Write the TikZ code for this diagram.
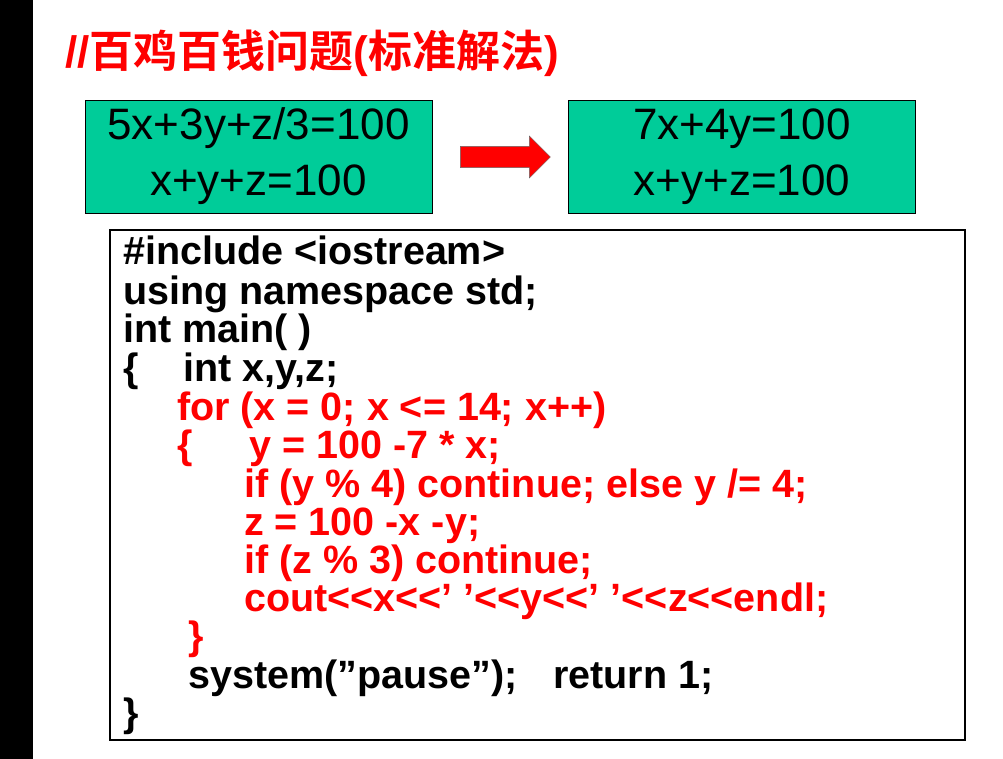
\documentclass[tikz,border=0pt]{standalone}
\usepackage{fontspec}
\setmainfont{Liberation Sans}[Ligatures=NoCommon]
\newfontfamily\cjk{Noto Sans CJK SC}[BoldFont={* Bold}]
\usetikzlibrary{shapes.arrows}
\definecolor{teal1}{HTML}{00CC99}
\definecolor{red1}{HTML}{FF0000}
\newcommand{\sq}{\symbol{39}}
\newcommand{\dq}{\symbol{34}}
\tikzset{eqbox/.style={draw=black,fill=teal1,minimum width=347pt,minimum height=113pt,align=center,font=\fontsize{44}{56}\selectfont,inner sep=0pt},
codel/.style={anchor=base west,inner sep=0pt,font=\bfseries\fontsize{39.5}{39.5}\selectfont},
codr/.style={codel,text=red1}}
\begin{document}
\begin{tikzpicture}[x=1pt,y=-1pt]
\useasboundingbox (0,0) rectangle (1003,759);
\fill[white] (0,0) rectangle (1003,759);
\fill[black] (0,0) rectangle (33,759);
\node[anchor=west,text=red1,font=\bfseries\fontsize{44}{44}\selectfont,inner sep=0pt] (title) at (65,53) {//{\cjk\bfseries 百鸡百钱问题}({\cjk\bfseries 标准解法})};
\node[eqbox] (b1) at (258.5,156.5) {5x+3y+z/3=100\\x+y+z=100};
\node[eqbox] (b2) at (742,156.5) {7x+4y=100\\x+y+z=100};
\node[single arrow,draw=black!60,fill=red1,minimum height=90pt,minimum width=42pt,single arrow head extend=6pt,inner sep=6pt] (ar) at (500,157) {};
\node[draw=black,line width=1.2pt,minimum width=855pt,minimum height=510pt,inner sep=0pt] (code) at (537.5,485) {};
\node[codel] (l1) at (123,265) {\#include <iostream>};
\node[codel] (l2) at (123,304) {using namespace std;};
\node[codel] (l3) at (123,342) {int main( )};
\node[codel] (l4a) at (123,381) {\{};
\node[codel] (l4) at (183,381) {int x,y,z;};
\node[codr] (l5) at (177,420) {for (x = 0; x <= 14; x++)};
\node[codr] (l6a) at (177,458) {\{};
\node[codr] (l6) at (249,458) {y = 100 -7 * x;};
\node[codr] (l7) at (244,497) {if (y \% 4) continue; else y /= 4;};
\node[codr] (l8) at (244,535) {z = 100 -x -y;};
\node[codr] (l9) at (244,573) {if (z \% 3) continue;};
\node[codr] (l10) at (244,611) {cout<{}<x<{}<\sq\ \sq<{}<y<{}<\sq\ \sq<{}<z<{}<endl;};
\node[codr] (l11) at (188,649) {\}};
\node[codel] (l12) at (188,688) {system(\dq pause\dq);};
\node[codel] (l12b) at (553,688) {return 1;};
\node[codel] (l13) at (123,726) {\}};
\end{tikzpicture}
\end{document}
